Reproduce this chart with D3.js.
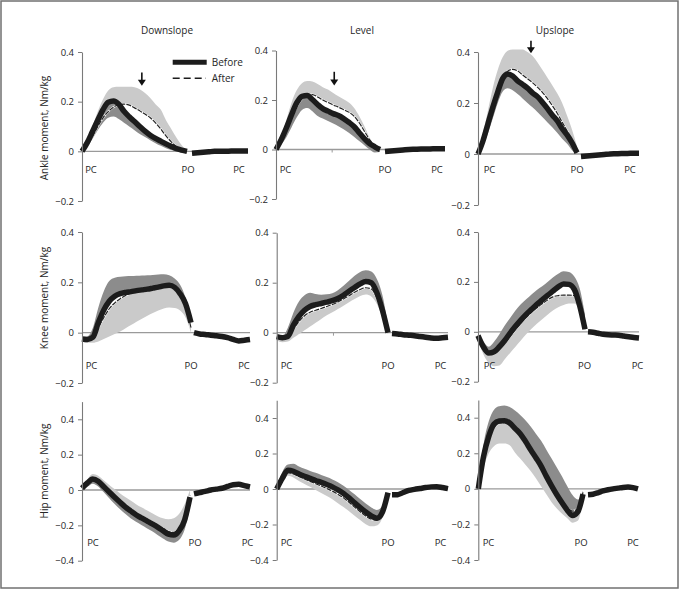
<!DOCTYPE html>
<html><head><meta charset="utf-8">
<script src="https://cdn.jsdelivr.net/npm/d3@7"></script>
<style>
body{margin:0;background:#fff}
svg{display:block}
text{font-family:"Open Sans","Noto Sans",sans-serif;fill:#262626}
</style>
</head><body>
<svg id="c" width="681" height="590"></svg>
<script>
// ---------------- data ----------------
const conditions = ["Downslope", "Level", "Upslope"];
const yLabels = ["Ankle moment, Nm/kg", "Knee moment, Nm/kg", "Hip moment, Nm/kg"];
const ticksSmall = [-0.2, 0, 0.2, 0.4];
const ticksSmallLabels = ["\u22120.2", "0", "0.2", "0.4"];
const ticksLarge = [-0.4, -0.2, 0, 0.2, 0.4];
const ticksLargeLabels = ["\u22120.4", "\u22120.2", "0", "0.2", "0.4"];
const phaseLabels = ["PC", "PO", "PC"];
const legendLabels = ["Before", "After"];

const stancePct = [0,5,10,15,20,25,30,35,40,45,50,55,60,65,70,75,80,85,90,95,100];
const swingPct = [0,10,20,30,40,50,60,70,80,90,100];

// Ankle, downslope
const ankleDownBefore   = [0,.035,.08,.125,.168,.198,.203,.19,.161,.139,.12,.1,.081,.065,.052,.041,.03,.02,.011,.005,0];
const ankleDownBeforeSD = [0,.02,.05,.085,.115,.135,.14,.13,.115,.1,.085,.07,.058,.045,.033,.022,.012,.005,0,-.006,-.008];
const ankleDownAfter    = [0,.025,.06,.1,.135,.16,.178,.188,.19,.186,.175,.163,.15,.135,.115,.09,.062,.038,.018,.006,0];
const ankleDownAfterSD  = [0,.04,.1,.16,.21,.245,.258,.26,.26,.26,.258,.25,.235,.215,.19,.168,.125,.09,.055,.025,0];
const ankleDownSwing    = [-.008,-.006,-.004,-.002,0,0,0,.001,.001,.001,.001];
// Ankle, level
const ankleLevelBefore   = [0,.04,.088,.141,.189,.215,.218,.202,.182,.165,.155,.145,.137,.125,.11,.093,.068,.044,.024,.011,0];
const ankleLevelBeforeSD = [0,.02,.05,.09,.13,.16,.168,.155,.135,.125,.115,.105,.094,.082,.068,.052,.034,.017,0,-.012,-.01];
const ankleLevelAfter    = [0,.035,.08,.13,.175,.205,.222,.222,.212,.2,.19,.18,.171,.161,.151,.135,.108,.074,.04,.016,0];
const ankleLevelAfterSD  = [0,.05,.12,.19,.24,.268,.277,.275,.265,.252,.242,.228,.215,.203,.19,.169,.135,.094,.048,.013,0];
const ankleLevelSwing    = [-.008,-.006,-.004,-.002,0,.001,.002,.002,.003,.003,.003];
// Ankle, upslope
const ankleUpBefore   = [0,.051,.118,.184,.244,.297,.314,.306,.287,.273,.258,.24,.225,.203,.179,.153,.131,.1,.075,.044,.005];
const ankleUpBeforeSD = [0,.03,.08,.14,.2,.245,.258,.25,.235,.218,.2,.183,.165,.145,.125,.105,.083,.06,.04,.015,0];
const ankleUpAfter    = [0,.045,.11,.175,.235,.29,.325,.332,.326,.31,.295,.28,.262,.242,.218,.19,.16,.125,.09,.05,.005];
const ankleUpAfterSD  = [0,.08,.17,.26,.33,.38,.405,.41,.41,.41,.4,.385,.36,.33,.3,.27,.238,.2,.15,.095,.03];
const ankleUpSwing    = [-.01,-.008,-.006,-.004,-.002,0,.001,.002,.002,.003,.003];
// Knee, downslope
const kneeDownBefore   = [-.025,-.027,-.018,.04,.09,.125,.145,.155,.16,.163,.167,.17,.173,.177,.181,.186,.188,.18,.155,.115,.04];
const kneeDownBeforeSD = [-.02,-.015,.02,.1,.165,.205,.218,.222,.224,.225,.226,.227,.228,.229,.231,.232,.228,.215,.19,.14,.07];
const kneeDownAfter    = [-.03,-.03,-.02,.02,.06,.095,.118,.135,.148,.158,.165,.169,.172,.176,.18,.184,.185,.175,.15,.1,.02];
const kneeDownAfterSD  = [-.035,-.04,-.04,-.035,-.025,-.015,-.005,.005,.018,.03,.043,.055,.067,.078,.088,.096,.1,.098,.088,.06,0];
const kneeDownSwing    = [0,-.005,-.007,-.01,-.012,-.015,-.02,-.027,-.033,-.03,-.027];
// Knee, level
const kneeLevelBefore   = [-.016,-.02,-.015,.03,.065,.09,.105,.112,.117,.122,.128,.137,.15,.166,.181,.195,.205,.2,.16,.09,0];
const kneeLevelBeforeSD = [-.015,-.015,.02,.08,.125,.15,.16,.155,.152,.154,.158,.17,.188,.208,.228,.243,.25,.245,.215,.15,.03];
const kneeLevelAfter    = [-.02,-.025,-.015,.015,.045,.068,.082,.09,.097,.105,.113,.123,.135,.148,.162,.173,.18,.175,.14,.08,0];
const kneeLevelAfterSD  = [-.03,-.038,-.035,-.02,-.005,.01,.025,.04,.055,.07,.082,.095,.108,.122,.135,.147,.153,.145,.115,.06,-.005];
const kneeLevelSwing    = [-.003,-.005,-.008,-.01,-.012,-.015,-.018,-.021,-.022,-.02,-.018];
// Knee, upslope
const kneeUpBefore   = [-.015,-.06,-.085,-.08,-.06,-.035,-.005,.022,.047,.07,.09,.11,.128,.146,.163,.18,.192,.19,.17,.105,.01];
const kneeUpBeforeSD = [-.015,-.04,-.06,-.04,-.01,.025,.055,.085,.11,.13,.15,.168,.183,.2,.218,.233,.243,.24,.222,.175,.07];
const kneeUpAfter    = [-.015,-.065,-.09,-.088,-.07,-.045,-.018,.01,.035,.058,.078,.096,.112,.127,.14,.145,.147,.147,.145,.11,.01];
const kneeUpAfterSD  = [-.03,-.09,-.125,-.138,-.135,-.11,-.085,-.06,-.035,-.01,.012,.032,.05,.068,.085,.098,.107,.113,.113,.09,.01];
const kneeUpSwing    = [0,-.002,-.006,-.01,-.012,-.013,-.014,-.017,-.02,-.023,-.025];
// Hip, downslope
const hipDownBefore   = [.01,.04,.062,.05,.02,-.01,-.04,-.068,-.095,-.118,-.14,-.158,-.175,-.192,-.21,-.23,-.25,-.255,-.23,-.17,-.04];
const hipDownBeforeSD = [0,.018,.036,.02,-.012,-.045,-.078,-.108,-.135,-.16,-.18,-.198,-.216,-.234,-.254,-.274,-.292,-.298,-.282,-.225,-.1];
const hipDownAfter    = [.015,.048,.07,.058,.03,0,-.03,-.058,-.085,-.108,-.13,-.148,-.165,-.182,-.2,-.218,-.235,-.24,-.215,-.155,-.03];
const hipDownAfterSD  = [.015,.06,.09,.08,.055,.03,.005,-.018,-.04,-.06,-.08,-.098,-.115,-.132,-.148,-.16,-.165,-.16,-.135,-.08,0];
const hipDownSwing    = [-.022,-.015,-.008,0,.005,.01,.02,.03,.032,.025,.018];
// Hip, level
const hipLevelBefore   = [0,.06,.105,.1,.085,.072,.06,.048,.037,.025,.012,-.005,-.025,-.05,-.078,-.105,-.13,-.152,-.165,-.13,-.02];
const hipLevelBeforeSD = [.005,.095,.138,.142,.127,.114,.102,.091,.079,.067,.054,.038,.018,-.005,-.03,-.057,-.082,-.104,-.118,-.094,-.02];
const hipLevelAfter    = [0,.052,.092,.085,.07,.056,.043,.03,.017,.003,-.012,-.03,-.05,-.075,-.102,-.128,-.152,-.17,-.175,-.14,-.025];
const hipLevelAfterSD  = [-.005,.04,.075,.065,.045,.028,.012,-.005,-.022,-.04,-.058,-.08,-.102,-.125,-.15,-.175,-.198,-.21,-.205,-.16,-.03];
const hipLevelSwing    = [-.033,-.032,-.02,-.008,-.002,.003,.008,.012,.013,.008,.002];
// Hip, upslope
const hipUpBefore   = [0,.182,.295,.364,.381,.383,.37,.34,.31,.267,.22,.175,.128,.07,.017,-.033,-.078,-.12,-.15,-.13,-.03];
const hipUpBeforeSD = [0,.25,.38,.445,.465,.468,.46,.44,.415,.385,.35,.31,.27,.22,.17,.12,.07,.015,-.035,-.06,-.01];
const hipUpAfter    = [0,.17,.28,.345,.37,.372,.362,.332,.3,.257,.21,.163,.115,.06,.01,-.035,-.075,-.11,-.125,-.11,-.02];
const hipUpAfterSD  = [0,.12,.2,.24,.255,.255,.245,.205,.17,.135,.1,.06,.015,-.03,-.075,-.11,-.14,-.165,-.19,-.18,-.06];
const hipUpSwing    = [-.033,-.03,-.022,-.012,-.005,0,.004,.008,.01,.007,0];

// arrows in ankle row (stance %, top value, tip value)
const arrowPct = [57, 56, 53.5];
const arrowTop = [0.317, 0.314, 0.444];
const arrowTip = [0.264, 0.259, 0.395];

// ---------------- layout (pixels) ----------------
const layout = [
  {ax:82,   stEnd:187, swStart:192, swEnd:248, yA:52,    yB:201,   pc1:91,    po:188,   pc2:239},
  {ax:276,  stEnd:380, swStart:385, swEnd:445, yA:50.5,  yB:199,   pc1:285.5, po:385,   pc2:437, minor:54},
  {ax:478,  stEnd:577, swStart:581, swEnd:639, yA:52,    yB:205,   pc1:489.5, po:577,   pc2:630},
  {ax:82,   stEnd:191, swStart:194, swEnd:250, yA:232,   yB:383,   pc1:91.5,  po:191,   pc2:244},
  {ax:276.7,stEnd:388, swStart:392, swEnd:448, yA:232.7, yB:382.7, pc1:286.5, po:388,   pc2:440.5, minor:51},
  {ax:478,  stEnd:585, swStart:588, swEnd:639, yA:232,   yB:381.7, pc1:489.5, po:584.5, pc2:637.5},
  {ax:82,   stEnd:190, swStart:194, swEnd:250, yA:419.3, yB:560.7, pc1:93,    po:195,   pc2:247.5},
  {ax:276.7,stEnd:388, swStart:392, swEnd:448, yA:418,   yB:560,   pc1:286.5, po:388,   pc2:440.5},
  {ax:478.3,stEnd:583, swStart:588, swEnd:638, yA:417.7, yB:560,   pc1:488.5, po:581,   pc2:633}
];
const rowPhaseY = [169, 365.5, 542.7];
const yLabelY = [128, 298, 471];

const panels = [
  [ankleDownBefore, ankleDownBeforeSD, ankleDownAfter, ankleDownAfterSD, ankleDownSwing],
  [ankleLevelBefore, ankleLevelBeforeSD, ankleLevelAfter, ankleLevelAfterSD, ankleLevelSwing],
  [ankleUpBefore, ankleUpBeforeSD, ankleUpAfter, ankleUpAfterSD, ankleUpSwing],
  [kneeDownBefore, kneeDownBeforeSD, kneeDownAfter, kneeDownAfterSD, kneeDownSwing],
  [kneeLevelBefore, kneeLevelBeforeSD, kneeLevelAfter, kneeLevelAfterSD, kneeLevelSwing],
  [kneeUpBefore, kneeUpBeforeSD, kneeUpAfter, kneeUpAfterSD, kneeUpSwing],
  [hipDownBefore, hipDownBeforeSD, hipDownAfter, hipDownAfterSD, hipDownSwing],
  [hipLevelBefore, hipLevelBeforeSD, hipLevelAfter, hipLevelAfterSD, hipLevelSwing],
  [hipUpBefore, hipUpBeforeSD, hipUpAfter, hipUpAfterSD, hipUpSwing]
];

// ---------------- drawing ----------------
const svg = d3.select("#c");
const LIGHT = "#cacaca", DARK = "#8c8c8c", INK = "#1c1c1c", AXIS = "#7a7a7a";

svg.append("rect").attr("x",1).attr("y",1).attr("width",677).attr("height",587)
  .attr("fill","none").attr("stroke","#707070").attr("stroke-width",1.5);

conditions.forEach((c,i) => {
  svg.append("text").attr("x",[167,362,555][i]).attr("y",33.5)
    .attr("text-anchor","middle").attr("font-size",10).text(c);
});
yLabels.forEach((t,r) => {
  svg.append("text").attr("transform",`translate(47.5,${yLabelY[r]}) rotate(-90)`)
    .attr("text-anchor","middle").attr("font-size",10).text(t);
});

panels.forEach((p,k) => {
  const L = layout[k], row = Math.floor(k/3), col = k%3;
  const [bef, befSD, aft, aftSD, swing] = p;
  const big = row === 2;
  const y = d3.scaleLinear().domain([-0.2,0.4]).range([L.yB, L.yA]);
  if (big) y.domain([-0.4,0.5]).range([L.yB, L.yB - (L.yB - L.yA)*0.9/0.8]);
  const xs = d3.scaleLinear().domain([0,100]).range([L.ax, L.stEnd]);
  const xw = d3.scaleLinear().domain([0,100]).range([L.swStart, L.swEnd]);
  const g = svg.append("g");

  // zero line
  g.append("line").attr("x1",L.ax).attr("x2",L.swEnd).attr("y1",y(0)).attr("y2",y(0))
    .attr("stroke","#9a9a9a").attr("stroke-width",1.3);
  if (L.minor) g.append("line").attr("x1",xs(L.minor)).attr("x2",xs(L.minor))
    .attr("y1",y(0)).attr("y2",y(0)+3).attr("stroke","#9a9a9a").attr("stroke-width",1);

  const idx = d3.range(stancePct.length);
  const band = (m, e) => d3.area().curve(d3.curveMonotoneX)
    .x(i => xs(stancePct[i])).y0(i => y(m[i])).y1(i => y(e[i]))(idx);
  const line = (m) => d3.line().curve(d3.curveMonotoneX)
    .x(i => xs(stancePct[i])).y(i => y(m[i]))(idx);

  g.append("path").attr("d", band(aft, aftSD)).attr("fill", LIGHT);
  g.append("path").attr("d", band(bef, befSD)).attr("fill", DARK);
  // after mean: thin dashed line with a faint white halo
  g.append("path").attr("d", line(aft)).attr("fill","none").attr("stroke","#fff")
    .attr("stroke-width",2.2).attr("stroke-opacity",0.8);
  g.append("path").attr("d", line(aft)).attr("fill","none").attr("stroke","#222")
    .attr("stroke-width",1.15).attr("stroke-dasharray","5,1.2");
  // before mean
  g.append("path").attr("d", line(bef)).attr("fill","none").attr("stroke",INK).attr("stroke-width",5.5);
  // swing
  const sidx = d3.range(swingPct.length);
  g.append("path").attr("d", d3.line().curve(d3.curveMonotoneX)
      .x(i => xw(swingPct[i])).y(i => y(swing[i]))(sidx))
    .attr("fill","none").attr("stroke",INK).attr("stroke-width",5.5);

  // axis
  const tv = big ? ticksLarge : ticksSmall;
  const tl = big ? ticksLargeLabels : ticksSmallLabels;
  const ax = g.append("g").attr("transform",`translate(${L.ax},0)`)
    .call(d3.axisLeft(y).tickValues(tv).tickSize(4).tickSizeOuter(0).tickPadding(4)
      .tickFormat(d => tl[tv.indexOf(d)]));
  ax.select(".domain").attr("stroke",AXIS).attr("stroke-width",1.1);
  ax.selectAll(".tick line").attr("stroke",AXIS);
  ax.selectAll(".tick text").attr("font-size",9.5).attr("fill","#262626")
    .attr("font-family",'"Open Sans","Noto Sans",sans-serif');

  // phase labels
  [L.pc1, L.po, L.pc2].forEach((x,j) => {
    g.append("text").attr("x",x).attr("y",rowPhaseY[row]+3.5).attr("text-anchor","middle")
      .attr("font-size",9.5).text(phaseLabels[j]);
  });

  // arrows (ankle row)
  if (row === 0) {
    const xa = xs(arrowPct[col]), yt = y(arrowTop[col]), yp = y(arrowTip[col]);
    g.append("line").attr("x1",xa).attr("x2",xa).attr("y1",yt).attr("y2",yp-4)
      .attr("stroke","#111").attr("stroke-width",1.6);
    g.append("path").attr("d",`M${xa-4},${yp-6}L${xa+4},${yp-6}L${xa},${yp}Z`).attr("fill","#111");
  }

  // legend in first panel
  if (k === 0) {
    g.append("line").attr("x1",172.7).attr("x2",206.7).attr("y1",62.3).attr("y2",62.3)
      .attr("stroke",INK).attr("stroke-width",5);
    g.append("line").attr("x1",172.7).attr("x2",206).attr("y1",78.3).attr("y2",78.3)
      .attr("stroke",INK).attr("stroke-width",1.4).attr("stroke-dasharray","7,4");
    legendLabels.forEach((t,j) => g.append("text").attr("x",211.7).attr("y",[65.8,81.8][j])
      .attr("font-size",10).text(t));
  }
});
</script>
</body></html>
